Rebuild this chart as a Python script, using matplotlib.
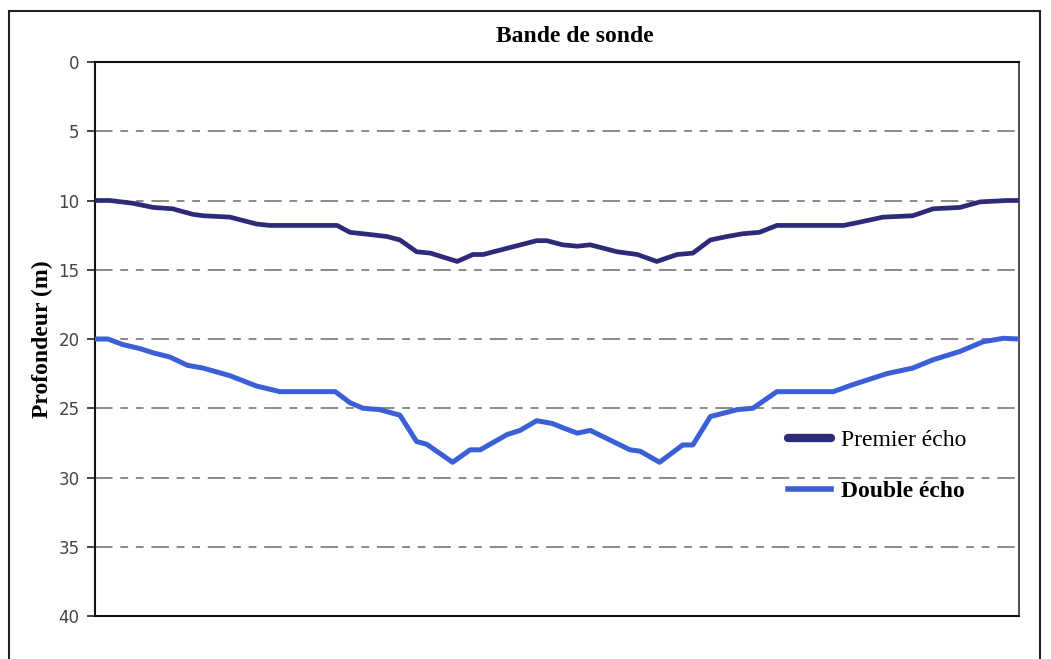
import matplotlib
matplotlib.use("Agg")
import matplotlib.pyplot as plt
from matplotlib.lines import Line2D
from matplotlib.patches import Rectangle

# distance along the profile (arbitrary 0-100 scale, no x ticks on the chart)
x_premier = [0, 1.6, 4.1, 6.3, 8.4, 10.6, 11.7, 14.6, 17.5, 18.9, 26.2, 27.6, 29.0,
             31.6, 33.0, 34.8, 36.3, 39.2, 40.9, 42.0, 44.6, 47.8, 48.9, 50.6, 52.2,
             53.6, 56.5, 58.7, 60.8, 63.0, 64.7, 66.6, 68.4, 70.1, 71.9, 73.8, 81.0,
             82.5, 85.3, 88.5, 90.7, 93.6, 95.8, 98.7, 100]
premier_echo = [10.0, 10.0, 10.2, 10.5, 10.6, 11.0, 11.1, 11.2, 11.7, 11.8, 11.8, 12.3, 12.4,
                12.6, 12.85, 13.7, 13.8, 14.4, 13.9, 13.9, 13.45, 12.9, 12.9, 13.2, 13.3,
                13.2, 13.7, 13.9, 14.4, 13.9, 13.8, 12.85, 12.6, 12.4, 12.3, 11.8, 11.8,
                11.6, 11.2, 11.1, 10.6, 10.5, 10.1, 10.0, 10.0]

x_double = [0, 1.4, 3.0, 4.9, 6.3, 8.1, 10.0, 11.7, 14.6, 17.5, 20.0, 26.0, 27.6, 29.0,
            30.8, 33.0, 34.8, 35.9, 38.7, 40.6, 41.7, 44.6, 46.0, 47.8, 49.5, 50.6, 52.2,
            53.6, 57.9, 59.0, 61.1, 63.6, 64.7, 66.6, 69.5, 71.2, 73.8, 79.9, 82.0,
            85.7, 88.5, 90.7, 93.6, 96.1, 98.3, 100]
double_echo = [20.0, 20.0, 20.4, 20.7, 21.0, 21.3, 21.9, 22.1, 22.65, 23.4, 23.8, 23.8, 24.6, 25.0,
               25.1, 25.5, 27.4, 27.6, 28.9, 28.0, 28.0, 26.9, 26.6, 25.9, 26.1, 26.4, 26.8,
               26.6, 28.0, 28.1, 28.9, 27.65, 27.65, 25.6, 25.1, 25.0, 23.8, 23.8, 23.3,
               22.5, 22.1, 21.5, 20.9, 20.2, 19.95, 20.0]

depth_ticks = [0, 5, 10, 15, 20, 25, 30, 35, 40]

premier_color = '#2d2a78'
double_color = '#3b5fd6'

W, H = 1051, 659
fig = plt.figure(figsize=(W / 100, H / 100), dpi=100)
ax = fig.add_axes([95 / W, 1 - 616 / H, (1019 - 95) / W, (616 - 62) / H])

# outer frame of the original screenshot
fig.patches.append(Rectangle((9 / W, -0.05), (1040 - 9) / W, 1.05 - 11 / H,
                             transform=fig.transFigure, fill=False,
                             edgecolor='#222222', linewidth=1.5))

ax.plot(x_premier, premier_echo, color=premier_color, linewidth=3.4,
        solid_joinstyle='round', zorder=3)
ax.plot(x_double, double_echo, color=double_color, linewidth=3.6,
        solid_joinstyle='round', zorder=3)

ax.set_xlim(0, 100)
ax.set_ylim(40, 0)
ax.set_yticks(depth_ticks)
ax.set_xticks([])
ax.tick_params(axis='y', direction='out', length=6, width=1.2, pad=5,
               labelsize=12, labelcolor='#444444', color='#222222')

for d in depth_ticks[1:-1]:
    ax.axhline(d, color='#8a8a8a', linewidth=1.4,
               dashes=(9, 4, 4, 4, 4, 4), zorder=1)

for side in ['left', 'top', 'bottom']:
    ax.spines[side].set_color('#111111')
    ax.spines[side].set_linewidth(1.5)
ax.spines['right'].set_color('#555555')
ax.spines['right'].set_linewidth(1.5)

ax.set_ylabel('Profondeur (m)', family='Liberation Serif', fontweight='bold',
              fontsize=17, labelpad=4)

fig.text(575 / W, 1 - 37 / H, 'Bande de sonde', family='Liberation Serif',
         fontweight='bold', fontsize=17, ha='center', va='center')

handles = [Line2D([], [], color=premier_color, linewidth=6, solid_capstyle='round'),
           Line2D([], [], color=double_color, linewidth=4)]
leg = ax.legend(handles, ['Premier écho', 'Double écho'], frameon=False,
                loc='center left', bbox_to_anchor=(767 / W, 1 - 466 / H),
                bbox_transform=fig.transFigure, handlelength=1.8,
                handletextpad=0.45, labelspacing=1.25,
                prop={'family': 'Liberation Serif', 'size': 17})
leg.get_texts()[1].set_fontweight('bold')

fig.savefig('out.png', dpi=100, facecolor='white')
